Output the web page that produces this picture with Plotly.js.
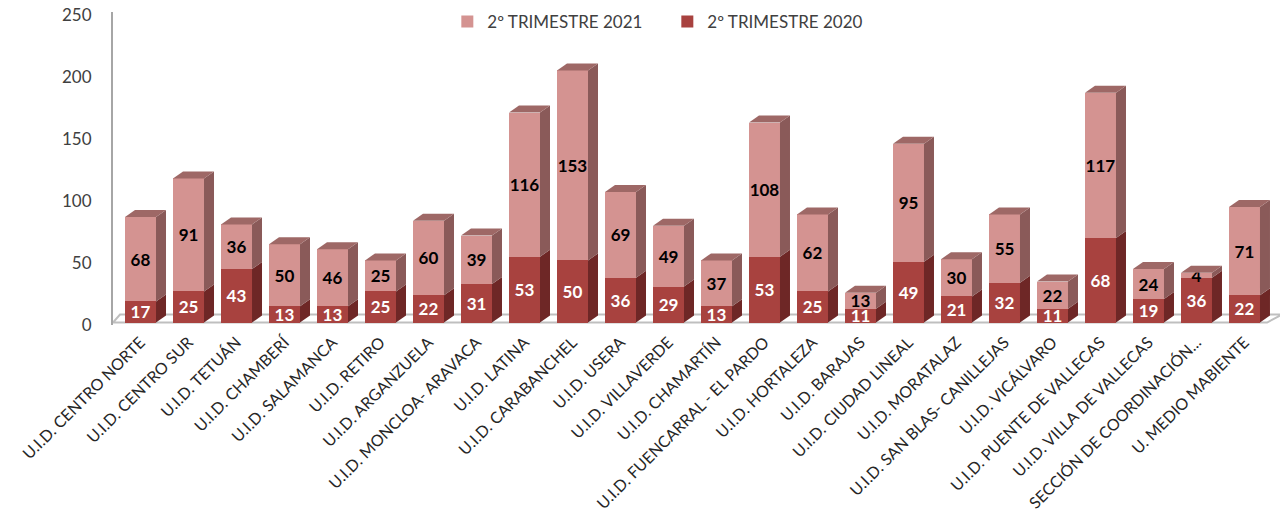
<!DOCTYPE html>
<html>
<head>
<meta charset="utf-8">
<script src="https://cdn.plot.ly/plotly-3.0.1.min.js"></script>
<style>html,body{margin:0;padding:0;background:#fff;}#chart{width:1284px;height:514px;}</style>
</head>
<body>
<div id="chart"></div>
<script>
const categories = [
  "U.I.D. CENTRO NORTE", "U.I.D. CENTRO SUR", "U.I.D. TETUÁN", "U.I.D. CHAMBERÍ",
  "U.I.D. SALAMANCA", "U.I.D. RETIRO", "U.I.D. ARGANZUELA", "U.I.D. MONCLOA- ARAVACA",
  "U.I.D. LATINA", "U.I.D. CARABANCHEL", "U.I.D. USERA", "U.I.D. VILLAVERDE",
  "U.I.D. CHAMARTÍN", "U.I.D. FUENCARRAL - EL PARDO", "U.I.D. HORTALEZA", "U.I.D. BARAJAS",
  "U.I.D. CIUDAD LINEAL", "U.I.D. MORATALAZ", "U.I.D. SAN BLAS- CANILLEJAS", "U.I.D. VICÁLVARO",
  "U.I.D. PUENTE DE VALLECAS", "U.I.D. VILLA DE VALLECAS", "SECCIÓN DE COORDINACIÓN...", "U. MEDIO MABIENTE"
];
const trim2020 = [17, 25, 43, 13, 13, 25, 22, 31, 53, 50, 36, 29, 13, 53, 25, 11, 49, 21, 32, 11, 68, 19, 36, 22];
const trim2021 = [68, 91, 36, 50, 46, 25, 60, 39, 116, 153, 69, 49, 37, 108, 62, 13, 95, 30, 55, 22, 117, 24, 4, 71];
const seriesNames = ["2º TRIMESTRE 2020", "2º TRIMESTRE 2021"];

// styling
const W = 1284, H = 514;
const M = {l: 113, r: 4, t: 12, b: 189};
const xRange = [-0.573, 23.74];
const yRange = [-2, 250];
const barW = 0.646;
const colFront2020 = "#A8423F", colSide2020 = "#6E2726";
const colFront2021 = "#D49391", colSide2021 = "#8A5A59", colTop = "#9E6866";

const pxPerCat = (W - M.l - M.r) / (xRange[1] - xRange[0]);
const pxPerUnit = (H - M.t - M.b) / (yRange[1] - yRange[0]);
const dX = 10 / pxPerCat, dY = 7 / pxPerUnit;

const xIdx = categories.map((_, i) => i);

function poly(pts, fill) {
  return {
    type: "path", xref: "x", yref: "y", layer: "above",
    path: "M" + pts.map(p => p[0] + "," + p[1]).join(" L") + " Z",
    fillcolor: fill, line: {width: 0}
  };
}

const shapes = [];
// floor
const fx0 = xRange[0], fx1 = 23.47;
shapes.push({
  type: "path", xref: "x", yref: "y", layer: "below",
  path: `M${fx0},0 L${fx1},0 L${fx1 + 15 / pxPerCat},${8 / pxPerUnit} L${fx0 + 7 / pxPerCat},${8 / pxPerUnit} Z`,
  fillcolor: "#ffffff", line: {color: "#BFBFBF", width: 2}
});
xIdx.forEach(i => {
  const xl = i - barW / 2, xr = i + barW / 2;
  const a = trim2020[i], b = trim2020[i] + trim2021[i];
  shapes.push(poly([[xr, 0], [xr + dX, dY], [xr + dX, a + dY], [xr, a]], colSide2020));
  shapes.push(poly([[xr, a], [xr + dX, a + dY], [xr + dX, b + dY], [xr, b]], colSide2021));
  shapes.push(poly([[xl, b], [xl + dX, b + dY], [xr + dX, b + dY], [xr, b]], colTop));
});

const labelFont = {family: "Lato, 'Open Sans', sans-serif", size: 17, weight: "bold"};

const traces = [
  {
    type: "bar", name: seriesNames[0], x: xIdx, y: trim2020, width: barW,
    marker: {color: colFront2020, line: {width: 0}},
    text: trim2020.map(String), textposition: "inside", insidetextanchor: "middle",
    constraintext: "none", textangle: 0,
    textfont: Object.assign({color: "#ffffff"}, labelFont), hoverinfo: "skip"
  },
  {
    type: "bar", name: seriesNames[1], x: xIdx, y: trim2021, width: barW,
    marker: {color: colFront2021, line: {width: 0}},
    text: trim2021.map(String), textposition: "inside", insidetextanchor: "middle",
    constraintext: "none", textangle: 0,
    textfont: Object.assign({color: "#000000"}, labelFont), hoverinfo: "skip"
  }
];

const layout = {
  width: W, height: H, margin: M,
  paper_bgcolor: "#ffffff", plot_bgcolor: "#ffffff",
  barmode: "stack", showlegend: true,
  font: {family: "Lato, 'Open Sans', sans-serif", color: "#262626"},
  legend: {
    orientation: "h", x: 0.475, xanchor: "center", y: 0.968, yanchor: "middle",
    entrywidth: 175, entrywidthmode: "pixels",
    traceorder: "reversed", font: {size: 17, color: "#404040"}, bgcolor: "rgba(0,0,0,0)"
  },
  xaxis: {
    range: xRange, tickmode: "array", tickvals: xIdx, ticktext: categories,
    tickangle: -45, tickfont: {size: 16, color: "#262626"},
    showgrid: false, zeroline: false, showline: false, ticks: "", ticklabelstandoff: 4
  },
  yaxis: {
    range: yRange, tickmode: "array", tickvals: [0, 50, 100, 150, 200, 250],
    tickfont: {size: 17, color: "#404040"},
    showgrid: false, zeroline: false, showline: true, linecolor: "#A6A6A6", linewidth: 2,
    ticks: "outside", ticklen: 16, tickcolor: "rgba(0,0,0,0)", ticklabelshift: 3
  },
  shapes: shapes
};

Plotly.newPlot("chart", traces, layout, {displayModeBar: false, staticPlot: true});
</script>
</body>
</html>
